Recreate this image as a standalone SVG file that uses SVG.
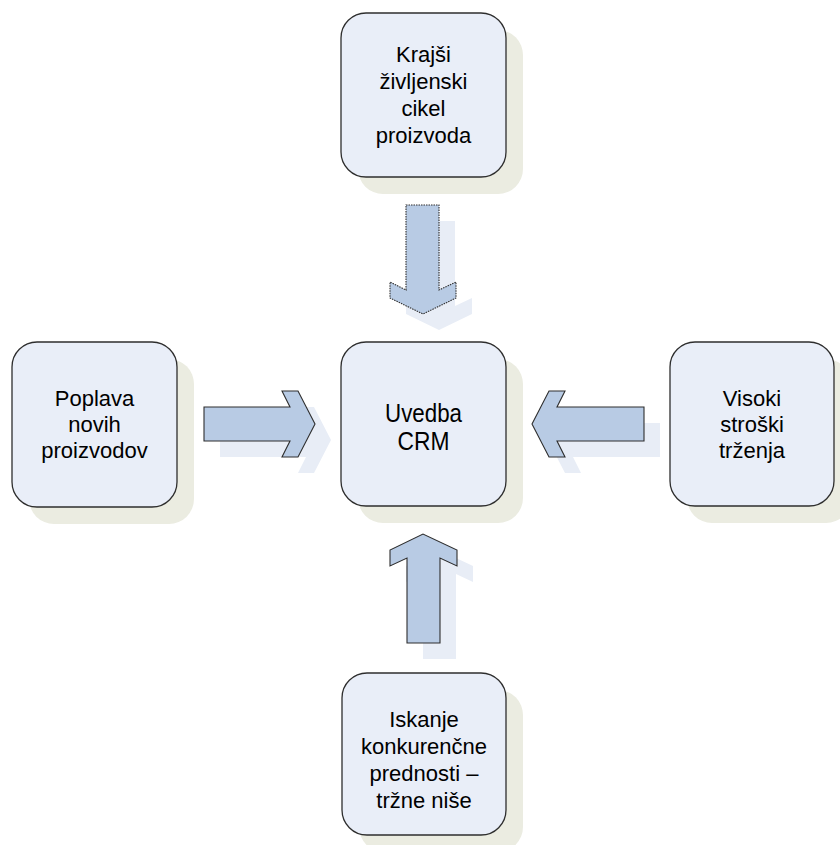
<svg xmlns="http://www.w3.org/2000/svg" width="840" height="845" viewBox="0 0 840 845">
<defs>
<style>
.bx{fill:#E9EEF8;stroke:#2E2E2E;stroke-width:1.3}
.sh{fill:#EBECE1}
.ar{fill:#B8CBE4;stroke:#2E2E2E;stroke-width:1.1;stroke-linejoin:miter}
.ard{fill:#B8CBE4;stroke:#2E2E2E;stroke-width:1.1;stroke-dasharray:1.5 1}
.as{fill:#E8EDF6}
text{font-family:"Liberation Sans",Arial,sans-serif;font-size:22px;fill:#000;text-anchor:middle}
.c{font-size:26.5px}
</style>
</defs>
<rect width="840" height="845" fill="#FFFFFF"/>
<g id="connectors">
<polygon class="as" transform="translate(16,16)" points="406,205 439,205 439,290 456,282 456,298 423,314 390,298 390,282 406,290"/>
<polygon class="as" transform="translate(16,16)" points="204,407 290,407 282,391 298,391 315,424 298,457 282,457 290,441 204,441"/>
<polygon class="as" transform="translate(16,16)" points="644,407 557,407 565,391 549,391 532,424 549,457 565,457 557,441 644,441"/>
<polygon class="as" transform="translate(16,16)" points="407,643 407,558 390,566 390,550 423,534 457,550 457,566 440,558 440,643"/>
<polygon class="ard" points="406,205 439,205 439,290 456,282 456,298 423,314 390,298 390,282 406,290"/>
<polygon class="ar" points="204,407 290,407 282,391 298,391 315,424 298,457 282,457 290,441 204,441"/>
<polygon class="ar" points="644,407 557,407 565,391 549,391 532,424 549,457 565,457 557,441 644,441"/>
<polygon class="ar" points="407,643 407,558 390,566 390,550 423,534 457,550 457,566 440,558 440,643"/>
</g>
<g id="node-top">
<rect class="sh" x="358" y="30" width="165" height="164" rx="25"/>
<rect class="bx" x="341" y="13" width="165" height="164" rx="25"/>
<text x="423.5" y="62">Krajši</text>
<text x="423.5" y="89">življenski</text>
<text x="423.5" y="116">cikel</text>
<text x="423.5" y="143">proizvoda</text>
</g>
<g id="node-left">
<rect class="sh" x="29" y="359" width="165" height="165" rx="25"/>
<rect class="bx" x="12" y="342" width="165" height="165" rx="25"/>
<text x="94.5" y="406">Poplava</text>
<text x="94.5" y="432">novih</text>
<text x="94.5" y="458">proizvodov</text>
</g>
<g id="node-center">
<rect class="sh" x="358" y="359" width="165" height="164" rx="25"/>
<rect class="bx" x="341" y="342" width="165" height="164" rx="25"/>
<text class="c" x="423.5" y="422" textLength="77" lengthAdjust="spacingAndGlyphs">Uvedba</text>
<text class="c" x="423.5" y="450" textLength="52" lengthAdjust="spacingAndGlyphs">CRM</text>
</g>
<g id="node-right">
<rect class="sh" x="687" y="359" width="164" height="164" rx="25"/>
<rect class="bx" x="670" y="342" width="164" height="164" rx="25"/>
<text x="752" y="406">Visoki</text>
<text x="752" y="432">stroški</text>
<text x="752" y="458">trženja</text>
</g>
<g id="node-bottom">
<rect class="sh" x="359" y="690" width="164" height="162" rx="25"/>
<rect class="bx" x="342" y="673" width="164" height="162" rx="25"/>
<text x="424" y="727">Iskanje</text>
<text x="424" y="754">konkurenčne</text>
<text x="424" y="781">prednosti –</text>
<text x="424" y="808">tržne niše</text>
</g>
</svg>
